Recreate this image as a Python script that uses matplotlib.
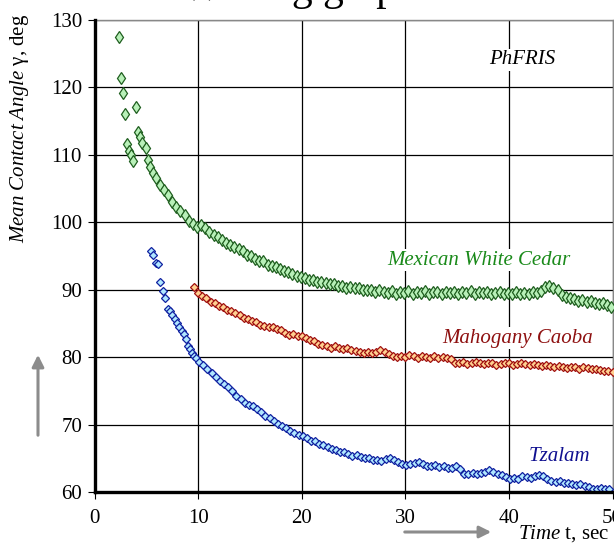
import numpy as np
import matplotlib
matplotlib.use('Agg')
import matplotlib.pyplot as plt

plt.rcParams['font.family'] = 'Liberation Serif'
plt.rcParams['mathtext.fontset'] = 'custom'
plt.rcParams['mathtext.rm'] = 'Liberation Serif'
plt.rcParams['mathtext.it'] = 'Liberation Serif:italic'

# Mexican White Cedar - first irregular readings, then every 0.4 s
cedar_t0 = [2.35, 2.54, 2.74, 2.93, 3.12, 3.32, 3.51, 3.70, 3.97, 4.16, 4.35,
            4.61, 4.93, 5.13, 5.38, 5.64, 5.96]
cedar_y0 = [127.5, 121.4, 119.2, 116.1, 111.6, 110.6, 110.0, 109.1, 117.1, 113.4,
            112.7, 111.7, 111.0, 109.2, 108.2, 107.3, 106.5]
cedar_y = [105.5, 104.8, 104.0, 103.0, 102.3, 101.7, 101.1, 100.2, 99.8, 99.3,
           99.6, 99.2, 98.6, 98.1, 97.8, 97.3, 97.0, 96.6, 96.4, 96.0,
           95.8, 95.2, 95.0, 94.6, 94.3, 94.2, 93.7, 93.5, 93.4, 93.0,
           92.8, 92.6, 92.4, 92.1, 91.9, 91.8, 91.5, 91.4, 91.2, 91.1,
           91.0, 90.8, 90.9, 90.5, 90.6, 90.3, 90.4, 90.2, 90.3, 90.0,
           89.9, 89.9, 89.7, 89.9, 89.6, 89.5, 89.8, 89.4, 89.6, 89.5,
           89.8, 89.4, 89.7, 89.5, 89.8, 89.3, 89.6, 89.7, 89.4, 89.6,
           89.5, 89.7, 89.4, 89.6, 89.5, 89.8, 89.4, 89.6, 89.5, 89.7,
           89.3, 89.5, 89.6, 89.4, 89.5, 89.4, 89.6, 89.3, 89.5, 89.4,
           89.6, 89.5, 89.8, 90.4, 90.6, 90.3, 90.0, 89.2, 88.9, 88.7,
           88.6, 88.4, 88.5, 88.2, 88.3, 88.0, 87.9, 88.0, 87.7, 87.5]

# Mahogany Caoba, from 9.6 s every 0.4 s
caoba_y = [90.4, 89.5, 89.0, 88.8, 88.2, 88.0, 87.6, 87.4, 87.0, 86.8,
           86.5, 86.2, 85.8, 85.6, 85.3, 85.2, 84.8, 84.6, 84.5, 84.4,
           84.2, 84.0, 83.6, 83.3, 83.4, 83.2, 83.2, 82.9, 82.6, 82.4,
           82.0, 81.8, 81.6, 81.3, 81.6, 81.4, 81.2, 81.3, 81.0, 80.9,
           80.7, 80.6, 80.8, 80.6, 80.7, 81.0, 80.8, 80.4, 80.1, 80.0,
           80.2, 80.0, 80.3, 80.1, 79.9, 80.2, 80.0, 79.9, 80.1, 79.8,
           80.0, 79.8, 79.7, 79.1, 79.2, 79.3, 79.0, 79.2, 79.3, 79.1,
           79.0, 79.2, 79.1, 78.9, 79.0, 79.2, 79.1, 78.9, 79.0, 79.2,
           79.0, 78.8, 79.0, 78.9, 78.7, 78.9, 78.7, 78.5, 78.7, 78.6,
           78.4, 78.6, 78.5, 78.3, 78.5, 78.4, 78.2, 78.3, 78.1, 78.0,
           77.9, 77.8]

# Tzalam - early readings, then from 10.1 s every 0.4 s
tzalam_t0 = [5.45, 5.65, 5.9, 6.15, 6.35, 6.6, 6.85, 7.1, 7.3, 7.5, 7.75,
             7.95, 8.15, 8.4, 8.6, 8.8, 9.0, 9.2, 9.4, 9.6, 9.8]
tzalam_y0 = [95.8, 95.2, 93.9, 93.8, 91.1, 89.8, 88.7, 87.1, 86.8, 86.2, 85.6,
             85.0, 84.5, 83.9, 83.5, 82.7, 81.6, 81.2, 80.6, 80.2, 79.8]
tzalam_y = [79.3, 78.9, 78.2, 77.6, 77.0, 76.4, 76.0, 75.5, 75.0, 74.2,
            73.8, 73.2, 72.9, 72.7, 72.3, 71.8, 71.3, 71.0, 70.5, 70.1,
            69.8, 69.5, 69.0, 68.8, 68.5, 68.3, 68.0, 67.6, 67.5, 67.1,
            66.9, 66.6, 66.4, 66.2, 65.9, 66.0, 65.6, 65.4, 65.5, 65.2,
            65.0, 65.1, 64.7, 64.8, 64.6, 64.9, 65.0, 64.7, 64.4, 64.2,
            64.0, 64.1, 64.3, 64.4, 64.1, 63.9, 63.8, 64.0, 63.7, 63.9,
            63.6, 63.5, 63.8, 63.4, 62.7, 62.6, 62.8, 62.7, 62.8, 63.0,
            63.2, 62.9, 62.6, 62.5, 62.2, 61.9, 62.1, 62.0, 62.3, 62.2,
            62.1, 62.3, 62.5, 62.3, 61.9, 61.6, 61.5, 61.7, 61.4, 61.3,
            61.2, 61.0, 61.2, 60.9, 60.7, 60.4, 60.5, 60.6, 60.4, 60.5]

cedar_tt = list(cedar_t0) + list(6.3 + 0.4 * np.arange(len(cedar_y)))
cedar_yy = cedar_y0 + cedar_y
caoba_tt = 9.6 + 0.4 * np.arange(len(caoba_y))
tzalam_tt = list(tzalam_t0) + list(10.1 + 0.4 * np.arange(len(tzalam_y)))
tzalam_yy = tzalam_y0 + tzalam_y

fig = plt.figure(figsize=(6.14, 5.43), dpi=100)
ax = fig.add_axes([94.5 / 614, 1 - 492 / 543, 518 / 614, 472 / 543])

ax.plot(cedar_tt, cedar_yy, 'd', ms=6.5, mfc='#b8f0b8', mec='#1f5e1f', mew=0.9, zorder=3)
ax.plot(caoba_tt, caoba_y, 'D', ms=3.8, mfc='#ffd090', mec='#a01010', mew=0.9, zorder=3)
ax.plot(tzalam_tt, tzalam_yy, 'D', ms=3.6, mfc='#b0e8ff', mec='#1020a0', mew=0.9, zorder=3)

ax.set_xlim(0, 50)
ax.set_ylim(60, 130)
ax.set_xticks([0, 10, 20, 30, 40, 50])
ax.set_yticks([60, 70, 80, 90, 100, 110, 120, 130])
ax.tick_params(labelsize=15, direction='out', length=5, width=0.8, pad=4)
ax.tick_params(axis='x', pad=7)
ax.grid(True, color='black', linewidth=0.9, zorder=1)
ax.set_axisbelow(True)
for s in ['top', 'right']:
    ax.spines[s].set_color('#888888')
    ax.spines[s].set_linewidth(1.0)
for s in ['left', 'bottom']:
    ax.spines[s].set_linewidth(2.4)
    ax.spines[s].set_zorder(4)

box = dict(facecolor='white', edgecolor='none', pad=1)
ax.text(38.1, 124.1, 'PhFRIS', fontsize=15, style='italic', va='center', bbox=box, zorder=2)
ax.text(28.3, 94.4, 'Mexican White Cedar', fontsize=15, style='italic', color='#1a8a1a',
        va='center', bbox=box, zorder=2)
ax.text(33.6, 82.8, 'Mahogany Caoba', fontsize=15, style='italic', color='#8e1010',
        va='center', bbox=box, zorder=2)
ax.text(41.9, 65.3, 'Tzalam', fontsize=15, style='italic', color='#101090',
        va='center', bbox=box, zorder=2)

# axis titles and arrows
fig.text(20 / 614, 1 - 14 / 543, r'$\mathit{Mean\ Contact\ Angle}$ γ, deg', rotation=90,
         fontsize=15, ha='center', va='top')
fig.text(609 / 614, 1 - 534 / 543, r'$\mathit{Time}$ t, sec', fontsize=15, ha='right', va='center')
fig.text(300 / 614, 1.0, 'Wetting graph', fontsize=30, ha='center', va='baseline')

fig.add_artist(matplotlib.patches.FancyArrowPatch((38 / 614, 1 - 438 / 543), (38 / 614, 1 - 352 / 543),
               transform=fig.transFigure, arrowstyle='-|>,head_length=7,head_width=3.5',
               color='#8c8c8c', lw=2.2))
fig.add_artist(matplotlib.patches.FancyArrowPatch((402 / 614, 1 - 532 / 543), (494 / 614, 1 - 532 / 543),
               transform=fig.transFigure, arrowstyle='-|>,head_length=7,head_width=3.5',
               color='#8c8c8c', lw=2.2))

fig.savefig('out.png', dpi=100)
